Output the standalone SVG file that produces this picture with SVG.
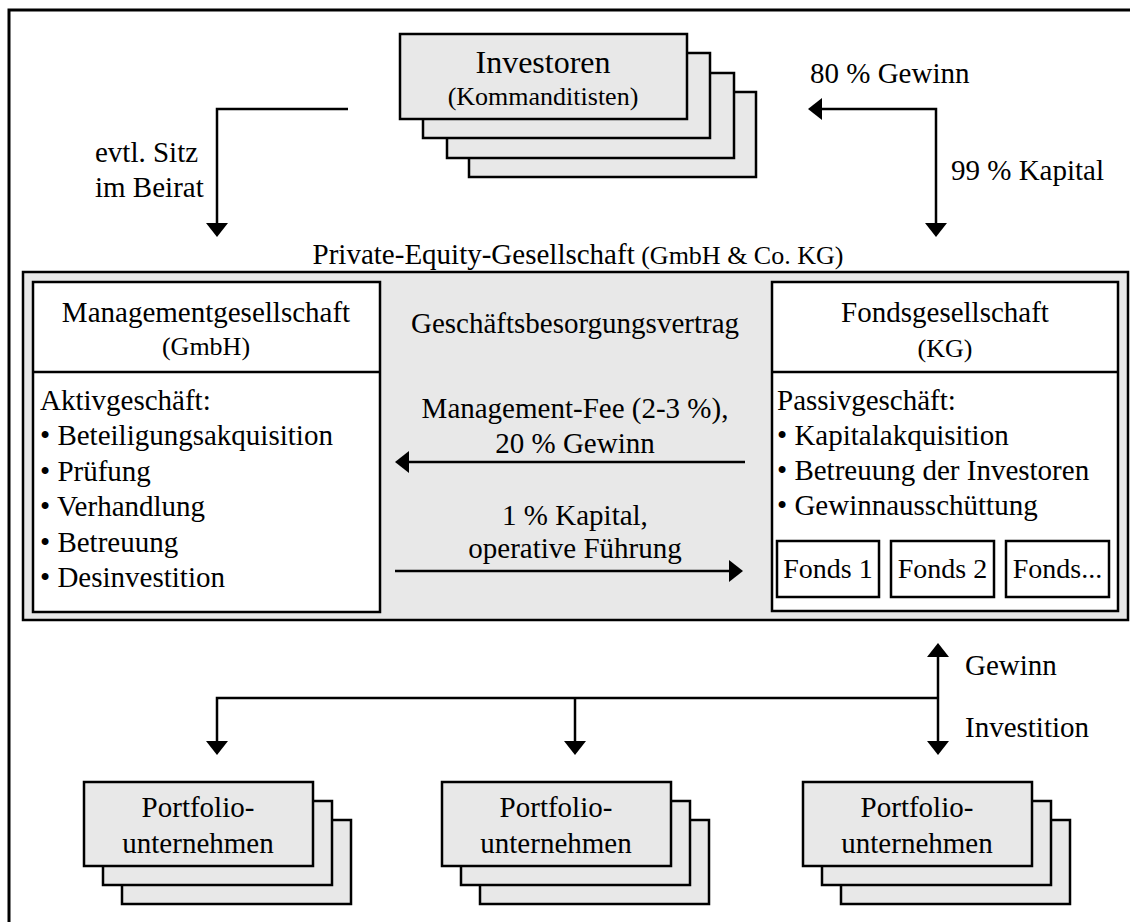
<svg xmlns="http://www.w3.org/2000/svg" width="1130" height="922" viewBox="0 0 1130 922">
  <style>
    text { font-family: "Liberation Serif", "Times New Roman", serif; fill: #000; }
    .t29 { font-size: 29px; }
    .t26 { font-size: 26px; }
    .mid { text-anchor: middle; }
    .card { fill: #e8e8e8; stroke: #000; stroke-width: 2.5; }
    .box { fill: #fff; stroke: #000; stroke-width: 2.5; }
    .conn { fill: none; stroke: #000; stroke-width: 2.5; }
  </style>
  <defs>
    <marker id="ah" viewBox="0 0 14 22" refX="4" refY="11" markerWidth="14" markerHeight="22" markerUnits="userSpaceOnUse" orient="auto-start-reverse">
      <path d="M0,0 L14,11 L0,22 z" fill="#000"/>
    </marker>
  </defs>

  <!-- outer frame -->
  <rect x="9" y="10" width="1135" height="930" fill="#fff" stroke="#000" stroke-width="3"/>

  <!-- investors: stacked cards -->
  <g id="investoren">
    <rect class="card" x="469" y="92" width="287" height="85"/>
    <rect class="card" x="447" y="73" width="287" height="85"/>
    <rect class="card" x="423" y="53" width="287" height="85"/>
    <rect class="card" x="400" y="34" width="287" height="85"/>
    <text class="mid" x="543" y="73" font-size="32">Investoren</text>
    <text class="mid t26" x="543" y="105">(Kommanditisten)</text>
  </g>

  <!-- private equity company container -->
  <g id="pe-gesellschaft">
    <text class="mid" x="578" y="264"><tspan class="t29">Private-Equity-Gesellschaft</tspan><tspan class="t26"> (GmbH &amp; Co. KG)</tspan></text>
    <rect x="23" y="272" width="1105" height="348" fill="#e8e8e8" stroke="#000" stroke-width="2.5"/>
    <text class="mid t29" x="575" y="333">Geschäftsbesorgungsvertrag</text>
  </g>

  <g id="managementgesellschaft">
    <rect class="box" x="33" y="282" width="347" height="330"/>
    <line x1="33" y1="372" x2="380" y2="372" stroke="#000" stroke-width="2.5"/>
    <text class="mid t29" x="206" y="322">Managementgesellschaft</text>
    <text class="mid t26" x="206" y="355">(GmbH)</text>
    <text class="t29" x="40" y="410">Aktivgeschäft:</text>
    <text class="t29" x="40" y="445">• Beteiligungsakquisition</text>
    <text class="t29" x="40" y="481">• Prüfung</text>
    <text class="t29" x="40" y="516">• Verhandlung</text>
    <text class="t29" x="40" y="552">• Betreuung</text>
    <text class="t29" x="40" y="587">• Desinvestition</text>
  </g>

  <g id="fondsgesellschaft">
    <rect class="box" x="772" y="282" width="346" height="329"/>
    <line x1="772" y1="372" x2="1118" y2="372" stroke="#000" stroke-width="2.5"/>
    <text class="mid t29" x="945" y="322">Fondsgesellschaft</text>
    <text class="mid t26" x="945" y="357">(KG)</text>
    <text class="t29" x="777" y="410">Passivgeschäft:</text>
    <text class="t29" x="777" y="445">• Kapitalakquisition</text>
    <text class="t29" x="777" y="480">• Betreuung der Investoren</text>
    <text class="t29" x="777" y="515">• Gewinnausschüttung</text>
  </g>

  <g id="fonds-1">
    <rect class="box" x="777" y="541" width="102" height="56"/>
    <text class="mid" x="828" y="578" font-size="28">Fonds 1</text>
  </g>
  <g id="fonds-2">
    <rect class="box" x="891" y="541" width="103" height="56"/>
    <text class="mid" x="942.5" y="578" font-size="28">Fonds 2</text>
  </g>
  <g id="fonds-n">
    <rect class="box" x="1006" y="541" width="103" height="56"/>
    <text class="mid" x="1057.5" y="578" font-size="28">Fonds...</text>
  </g>

  <!-- portfolio companies: stacked cards -->
  <g id="portfolio-1">
    <rect class="card" x="122" y="820" width="229" height="84"/>
    <rect class="card" x="103" y="801" width="229" height="84"/>
    <rect class="card" x="84" y="782" width="229" height="84"/>
    <text class="mid t29" x="198" y="817">Portfolio-</text>
    <text class="mid t29" x="198" y="853">unternehmen</text>
  </g>
  <g id="portfolio-2">
    <rect class="card" x="480" y="820" width="229" height="84"/>
    <rect class="card" x="461" y="801" width="229" height="84"/>
    <rect class="card" x="442" y="782" width="229" height="84"/>
    <text class="mid t29" x="556" y="817">Portfolio-</text>
    <text class="mid t29" x="556" y="853">unternehmen</text>
  </g>
  <g id="portfolio-3">
    <rect class="card" x="841" y="820" width="229" height="84"/>
    <rect class="card" x="822" y="801" width="229" height="84"/>
    <rect class="card" x="803" y="782" width="229" height="84"/>
    <text class="mid t29" x="917" y="817">Portfolio-</text>
    <text class="mid t29" x="917" y="853">unternehmen</text>
  </g>

  <!-- connectors and their labels -->
  <g id="connectors">
    <path class="conn" d="M348,109 H217 V227" marker-end="url(#ah)"/>
    <path class="conn" d="M936,227 V109 H818" marker-start="url(#ah)" marker-end="url(#ah)"/>
    <path class="conn" d="M745,462 H405" marker-end="url(#ah)"/>
    <path class="conn" d="M395,571 H733" marker-end="url(#ah)"/>
    <path class="conn" d="M217,745 V698 H938" marker-start="url(#ah)"/>
    <path class="conn" d="M575,698 V745" marker-end="url(#ah)"/>
    <path class="conn" d="M938,653 V745" marker-start="url(#ah)" marker-end="url(#ah)"/>

    <text class="t29" x="95" y="162">evtl. Sitz</text>
    <text class="t29" x="95" y="197">im Beirat</text>
    <text class="t29" x="810" y="83">80 % Gewinn</text>
    <text class="t29" x="951" y="180">99 % Kapital</text>
    <text class="mid t29" x="575" y="418">Management-Fee (2-3 %),</text>
    <text class="mid t29" x="575" y="453">20 % Gewinn</text>
    <text class="mid t29" x="575" y="525">1 % Kapital,</text>
    <text class="mid t29" x="575" y="558">operative Führung</text>
    <text class="t29" x="965" y="675">Gewinn</text>
    <text class="t29" x="965" y="737">Investition</text>
  </g>
</svg>
